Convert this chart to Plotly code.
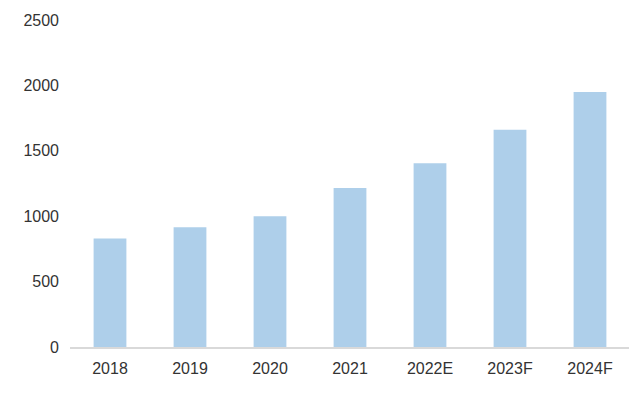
import plotly.graph_objects as go

categories = ["2018", "2019", "2020", "2021", "2022E", "2023F", "2024F"]
values = [830, 915, 1000, 1215, 1405, 1660, 1950]
y_ticks = [0, 500, 1000, 1500, 2000, 2500]

fig = go.Figure(go.Bar(
    x=categories, y=values,
    marker=dict(color="#aecfea", line=dict(width=0)),
    width=0.41,
))

fig.update_layout(
    width=637, height=402,
    margin=dict(l=62, r=15, t=12, b=63),
    paper_bgcolor="white", plot_bgcolor="white",
    font=dict(family="Liberation Sans, Arial, sans-serif", size=16, color="#333333"),
    showlegend=False,
)
fig.update_xaxes(
    type="category", range=[-0.5, 6.5], automargin=False,
    showline=True, linecolor="#d9d9d9", linewidth=1.5,
    showgrid=False, ticks="", ticklabelstandoff=6,
)
fig.update_yaxes(
    range=[0, 2500], tickvals=y_ticks, automargin=False,
    showgrid=False, zeroline=False, showline=False,
    ticks="", ticklabelstandoff=10,
)

fig.write_html("out.html")
